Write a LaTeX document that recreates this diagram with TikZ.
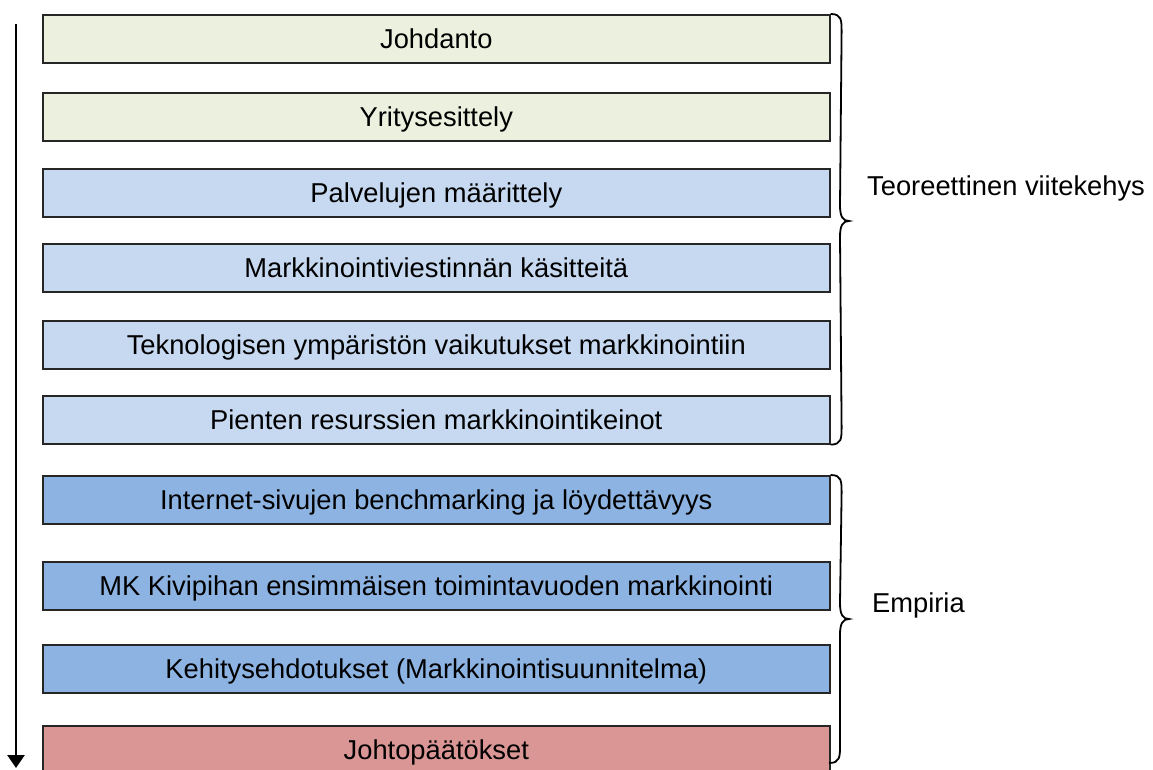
\documentclass[tikz,border=0pt]{standalone}
\usepackage{fontspec}
\setmainfont{Liberation Sans}
\usetikzlibrary{arrows.meta,calc}
\definecolor{cgreen}{HTML}{EBF1DE}
\definecolor{clblue}{HTML}{C6D9F1}
\definecolor{cmblue}{HTML}{8DB3E2}
\definecolor{cred}{HTML}{D99694}
\tikzset{
  chap/.style={draw=black!85, line width=1.6pt, minimum width=787pt, minimum height=48pt,
    inner sep=0pt, anchor=north west, text height=19pt, text depth=0pt,
    font=\fontsize{27.3}{31}\selectfont},
  grn/.style={chap, fill=cgreen},
  lbl/.style={chap, fill=clblue},
  mbl/.style={chap, fill=cmblue},
  rd/.style={chap, fill=cred},
  bracestyle/.style={draw=black, line width=1.8pt},
  side/.style={anchor=west, inner sep=0pt, font=\fontsize{27.3}{31}\selectfont, text height=19pt, text depth=0pt}
}
\begin{document}
\begin{tikzpicture}[x=1pt,y=-1pt]
\useasboundingbox (0,0) rectangle (1153,769);
\node[grn] (b1) at (42,14) {Johdanto};
\node[grn] (b2) at (42,92) {Yritysesittely};
\node[lbl] (b3) at (42,168) {Palvelujen määrittely};
\node[lbl] (b4) at (42,243) {Markkinointiviestinnän käsitteitä};
\node[lbl] (b5) at (42,320) {Teknologisen ympäristön vaikutukset markkinointiin};
\node[lbl] (b6) at (42,395) {Pienten resurssien markkinointikeinot};
\node[mbl] (b7) at (42,475) {Internet-sivujen benchmarking ja löydettävyys};
\node[mbl] (b8) at (42,561) {MK Kivipihan ensimmäisen toimintavuoden markkinointi};
\node[mbl] (b9) at (42,644) {Kehitysehdotukset (Markkinointisuunnitelma)};
\node[rd] (b10) at (42,725) {Johtopäätökset};
% arrow
\coordinate (as) at (16,24);
\coordinate (ae) at (16,768);
\draw[line width=2.6pt, -{Triangle[length=13pt,width=17pt]}] (as) -- (ae);
% braces
\coordinate (t1) at (b1.north east);
\coordinate (e1) at (b6.south east);
\coordinate (m1) at (849,221);
\draw[bracestyle] (t1) .. controls ($(t1)+(11,0)$) and ($(t1)+(11,6)$) .. ($(t1)+(11,18)$)
  -- ($(m1)+(-9,-16)$) .. controls ($(m1)+(-9,-4)$) and ($(m1)+(-6,0)$) .. (m1)
  .. controls ($(m1)+(-6,0)$) and ($(m1)+(-9,4)$) .. ($(m1)+(-9,16)$)
  -- ($(e1)+(11,-18)$) .. controls ($(e1)+(11,-6)$) and ($(e1)+(11,0)$) .. (e1);
\coordinate (t2) at (b7.north east);
\coordinate (e2) at (829,763);
\coordinate (m2) at (849,619);
\draw[bracestyle] (t2) .. controls ($(t2)+(11,0)$) and ($(t2)+(11,6)$) .. ($(t2)+(11,18)$)
  -- ($(m2)+(-9,-16)$) .. controls ($(m2)+(-9,-4)$) and ($(m2)+(-6,0)$) .. (m2)
  .. controls ($(m2)+(-6,0)$) and ($(m2)+(-9,4)$) .. ($(m2)+(-9,16)$)
  -- ($(e2)+(11,-18)$) .. controls ($(e2)+(11,-6)$) and ($(e2)+(11,0)$) .. (e2);
\node[side] (teo) at (867,186) {Teoreettinen viitekehys};
\node[side] (emp) at (872,603) {Empiria};
\end{tikzpicture}
\end{document}
